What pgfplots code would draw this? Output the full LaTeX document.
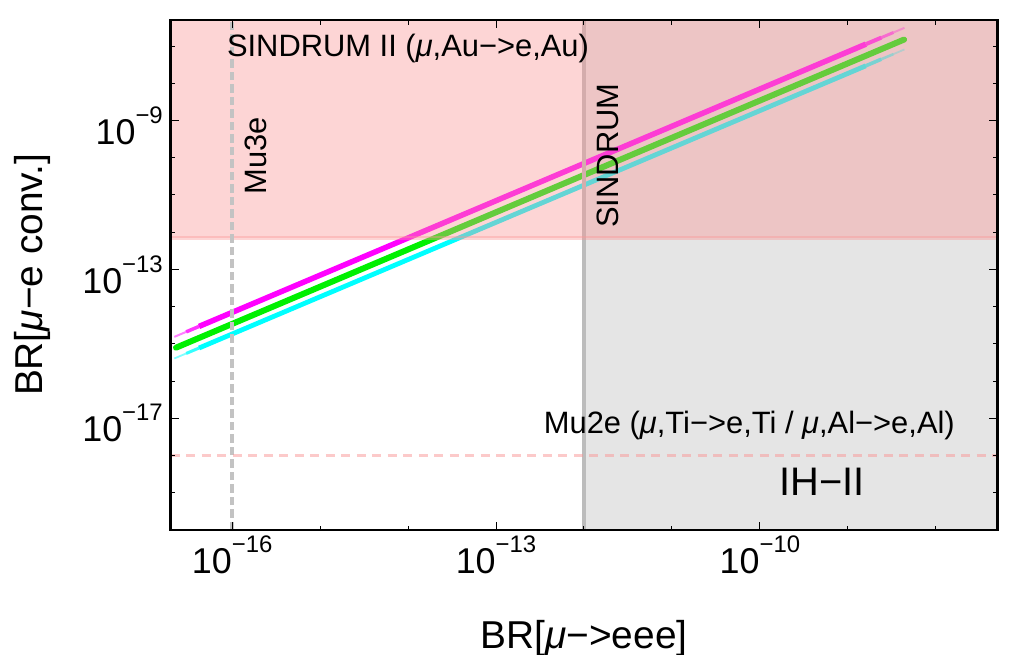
\documentclass[border=0pt]{standalone}
\usepackage{fontspec}
\setmainfont{Liberation Sans}
\usepackage{pgfplots}
\pgfplotsset{compat=1.18}
\definecolor{pinkC}{RGB}{250,150,150}
\definecolor{grayreg}{RGB}{229,229,229}
\definecolor{sindgray}{RGB}{188,188,188}
\definecolor{mu3egray}{RGB}{195,195,195}
\definecolor{lmag}{RGB}{255,0,255}
\definecolor{lgreen}{RGB}{0,240,0}
\definecolor{lcyan}{RGB}{0,255,255}
\newcommand{\tl}[1]{10\raisebox{21pt}{\fontsize{24}{24}\selectfont −#1}}
\begin{document}
\begin{tikzpicture}
\useasboundingbox (-170.7bp,-125bp) rectangle (842.3bp,530bp);
\begin{axis}[
  at={(0,0)}, anchor=south west,
  scale only axis, width=826.6bp, height=510bp,
  xmode=log, ymode=log,
  xmin=2e-17, xmax=5e-8, ymin=1e-20, ymax=5e-7,
  axis on top,
  axis line style={line width=2.6bp, black},
  xtick={1e-16,1e-13,1e-10},
  xticklabels={\tl{16},\tl{13},\tl{10}},
  minor xtick={1e-15,1e-14,1e-12,1e-11,1e-9,1e-8},
  ytick={1e-17,1e-13,1e-9},
  yticklabels={\tl{17},\tl{13},\tl{9}},
  minor ytick={1e-19,1e-18,1e-16,1e-15,1e-14,1e-12,1e-11,1e-10,1e-8,1e-7},
  major tick length=8bp, minor tick length=4.5bp,
  every tick/.style={black, line width=1bp},
  tick label style={font=\fontsize{36}{36}\selectfont, inner sep=0pt},
  xticklabel style={yshift=-6bp},
  yticklabel style={xshift=-7.7bp, yshift=-5bp},
  xlabel={BR[\textit{μ}−>eee]},
  ylabel={BR[\textit{μ}−e conv.]},
  label style={font=\fontsize{39}{39}\selectfont, inner sep=0pt},
  xlabel style={at={(axis description cs:0.5,-0.233)}, anchor=base},
  ylabel style={at={(axis description cs:-0.1545,0.5)}, anchor=base},
]
% gray region (SINDRUM excluded)
\addplot[draw=none, fill=grayreg] coordinates {(1e-12,1e-20) (5e-8,1e-20) (5e-8,5e-7) (1e-12,5e-7)} -- cycle;
% magenta band
\addplot[lmag, line width=2bp, opacity=0.5] coordinates {(2.2e-17,1.54e-15) (3.0e-17,2.1e-15)};
\addplot[lmag, line width=3.5bp, opacity=0.8] coordinates {(3.0e-17,2.1e-15) (4.2e-17,2.94e-15)};
\addplot[lmag, line width=5.5bp] coordinates {(4.2e-17,2.94e-15) (1e-13,7.0e-12) (1.6e-9,1.12e-7)};
\addplot[lmag, line width=4bp, opacity=0.85] coordinates {(1.6e-9,1.12e-7) (2.4e-9,1.68e-7)};
\addplot[lmag, line width=3bp, opacity=0.65] coordinates {(2.4e-9,1.68e-7) (3.3e-9,2.31e-7)};
\addplot[lmag, line width=2bp, opacity=0.4] coordinates {(3.3e-9,2.31e-7) (4.4e-9,3.08e-7)};
% green band
\addplot[lgreen, line width=6bp, line cap=round] coordinates {(2.3e-17,7.9e-16) (1e-13,3.43e-12) (4.35e-9,1.49e-7)};
% cyan band
\addplot[lcyan, line width=1.8bp, opacity=0.5] coordinates {(2.2e-17,4.05e-16) (3.0e-17,5.52e-16)};
\addplot[lcyan, line width=3bp, opacity=0.8] coordinates {(3.0e-17,5.52e-16) (4.2e-17,7.73e-16)};
\addplot[lcyan, line width=4.8bp] coordinates {(4.2e-17,7.73e-16) (1e-13,1.84e-12) (1.6e-9,2.94e-8)};
\addplot[lcyan, line width=3.6bp, opacity=0.85] coordinates {(1.6e-9,2.94e-8) (2.4e-9,4.42e-8)};
\addplot[lcyan, line width=2.6bp, opacity=0.6] coordinates {(2.4e-9,4.42e-8) (3.3e-9,6.07e-8)};
\addplot[lcyan, line width=1.8bp, opacity=0.4] coordinates {(3.3e-9,6.07e-8) (4.4e-9,8.10e-8)};
% SINDRUM line
\addplot[sindgray, line width=3.3bp] coordinates {(1e-12,1e-20) (1e-12,5e-7)};
% SINDRUM II region
\addplot[draw=none, fill=pinkC, fill opacity=0.4] coordinates {(2e-17,7e-13) (5e-8,7e-13) (5e-8,5e-7) (2e-17,5e-7)} -- cycle;
\addplot[pinkC, opacity=0.4, line width=3.3bp] coordinates {(2e-17,7e-13) (5e-8,7e-13)};
% Mu3e
\addplot[mu3egray, line width=3.4bp, dash pattern=on 8.5bp off 4bp] coordinates {(1e-16,1e-20) (1e-16,5e-7)};
% Mu2e
\addplot[pinkC, opacity=0.5, line width=3.4bp, dash pattern=on 9bp off 6.5bp] coordinates {(2e-17,1e-18) (5e-8,1e-18)};
% texts
\node[anchor=base west, inner sep=0pt, font=\fontsize{31}{31}\selectfont] at (axis cs:8.7e-17,5.2e-8) {SINDRUM II (\textit{μ},Au−>e,Au)};
\node[rotate=90, anchor=base west, inner sep=0pt, font=\fontsize{31}{31}\selectfont] at (axis cs:2.43e-16,1.02e-11) {Mu3e};
\node[rotate=90, anchor=base west, inner sep=0pt, font=\fontsize{31}{31}\selectfont] at (axis cs:2.48e-12,1.31e-12) {SINDRUM};
\node[anchor=base west, inner sep=0pt, font=\fontsize{31}{31}\selectfont] at (axis cs:3.48e-13,3.8e-18) {Mu2e (\textit{μ},Ti−>e,Ti / \textit{μ},Al−>e,Al)};
\node[anchor=base west, inner sep=0pt, font=\fontsize{40}{40}\selectfont] at (axis cs:1.66e-10,8.45e-20) {IH−II};
\end{axis}
\end{tikzpicture}
\end{document}
